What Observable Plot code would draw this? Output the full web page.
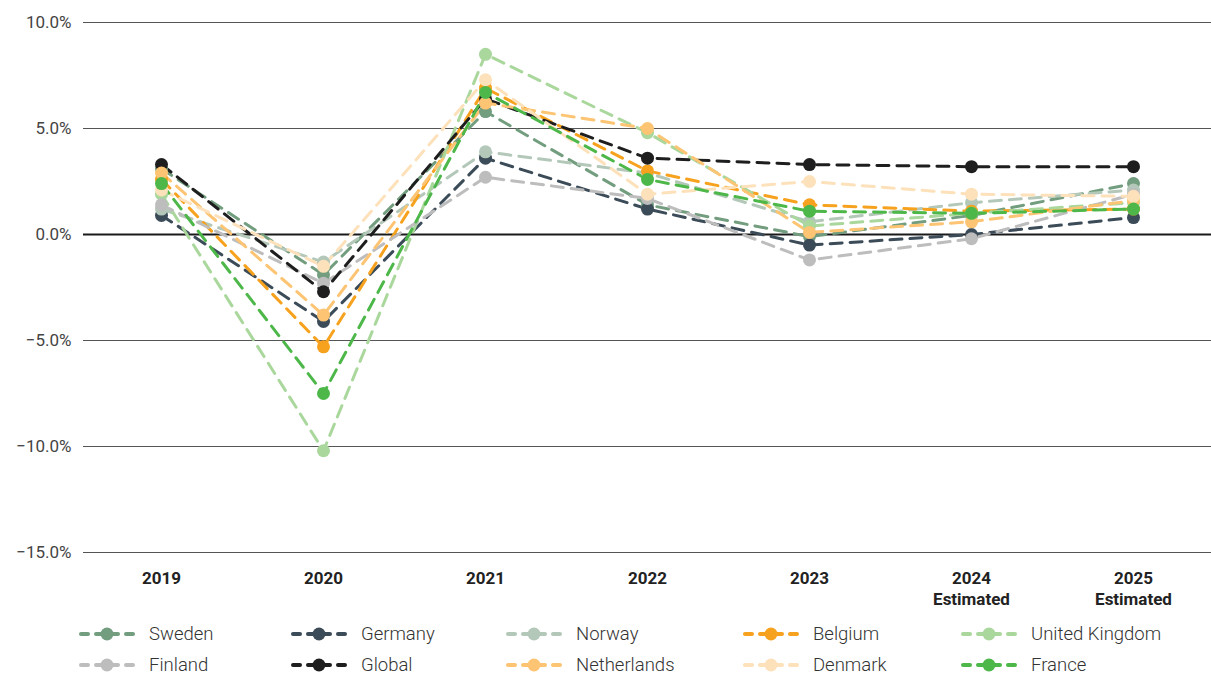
<!DOCTYPE html>
<html>
<head>
<meta charset="utf-8">
<script src="https://cdn.jsdelivr.net/npm/d3@7"></script>
<script src="https://cdn.jsdelivr.net/npm/@observablehq/plot@0.6"></script>
<style>
  html, body { margin: 0; padding: 0; background: #fff; }
  body { width: 1211px; height: 677px; overflow: hidden; position: relative; font-family: Roboto, "Noto Sans", sans-serif; }
  #chart { position: absolute; left: 0; top: 0; }
  .leg { position: absolute; display: flex; align-items: center; font-size: 18.5px; line-height: 20px; color: #333; font-weight: 300; white-space: nowrap; }
  .leg svg { margin-right: 13px; }
</style>
</head>
<body>
<div id="chart"></div>
<div id="legend"></div>
<script>
const years = ["2019", "2020", "2021", "2022", "2023", "2024", "2025"];
const yearLabels = ["2019", "2020", "2021", "2022", "2023", "2024\nEstimated", "2025\nEstimated"];
const yTicks = [10, 5, 0, -5, -10, -15];

const seriesNames = ["Sweden", "Germany", "Norway", "Belgium", "United Kingdom", "Finland", "Global", "Netherlands", "Denmark", "France"];
const seriesColors = ["#729d7e", "#3b4b58", "#b4c8b9", "#f7a21e", "#a9d79c", "#bdbdbd", "#1e1e1e", "#fcc473", "#fde1ba", "#4db849"];

const sweden      = [3.1, -1.9, 5.8, 1.4, -0.1, 0.9, 2.4];
const germany     = [0.9, -4.1, 3.6, 1.2, -0.5, 0.0, 0.8];
const norway      = [1.2, -1.3, 3.9, 2.9, 0.6, 1.5, 2.1];
const belgium     = [2.6, -5.3, 6.9, 3.0, 1.4, 1.1, 1.2];
const unitedKingdom = [1.9, -10.2, 8.5, 4.8, 0.4, 1.0, 1.5];
const finland     = [1.4, -2.3, 2.7, 1.7, -1.2, -0.2, 1.9];
const global      = [3.3, -2.7, 6.4, 3.6, 3.3, 3.2, 3.2];
const netherlands = [2.9, -3.8, 6.2, 5.0, 0.1, 0.6, 1.6];
const denmark     = [2.1, -1.5, 7.3, 1.9, 2.5, 1.9, 1.8];
const france      = [2.4, -7.5, 6.7, 2.6, 1.1, 1.0, 1.2];

const seriesValues = [sweden, germany, norway, belgium, unitedKingdom, finland, global, netherlands, denmark, france];

const data = [];
seriesNames.forEach((name, i) => {
  seriesValues[i].forEach((v, j) => data.push({series: name, year: years[j], value: v}));
});

const labelMap = Object.fromEntries(years.map((y, i) => [y, yearLabels[i]]));
const fmt = v => (v < 0 ? "\u2212" : "") + Math.abs(v).toFixed(1) + "%";

const plot = Plot.plot({
  width: 1211,
  height: 612,
  marginLeft: 83,
  marginRight: 0,
  marginTop: 22,
  marginBottom: 60,
  style: {fontFamily: "Roboto, sans-serif", background: "#fff"},
  x: {type: "point", domain: years, padding: 0.48},
  y: {domain: [-15, 10]},
  color: {domain: seriesNames, range: seriesColors},
  marks: [
    Plot.ruleY(yTicks.filter(d => d !== 0), {stroke: "#555", strokeWidth: 1}),
    Plot.ruleY([0], {stroke: "#1a1a1a", strokeWidth: 2}),
    Plot.axisY({ticks: yTicks, tickSize: 0, tickPadding: 12, tickFormat: fmt, fontSize: 17, color: "#444", label: null}),
    Plot.axisX({tickSize: 0, tickPadding: 16, tickFormat: d => labelMap[d], fontSize: 17, fontWeight: "bold", color: "#222", label: null, lineHeight: 1.25}),
    Plot.line(data, {x: "year", y: "value", z: "series", stroke: "series", strokeWidth: 3, strokeDasharray: "12,8", strokeLinecap: "round"}),
    Plot.dot(data, {x: "year", y: "value", fill: "series", r: 6.5})
  ]
});
document.getElementById("chart").appendChild(plot);

const legendX = [78, 290, 505, 742, 960];
const legendY = [634, 665];
const legend = document.getElementById("legend");
seriesNames.forEach((name, i) => {
  const col = i % 5, row = Math.floor(i / 5);
  const div = document.createElement("div");
  div.className = "leg";
  div.style.left = legendX[col] + "px";
  div.style.top = (legendY[row] - 11) + "px";
  div.style.height = "22px";
  const c = seriesColors[i];
  div.innerHTML = `<svg width="58" height="22"><line x1="3" y1="11" x2="10" y2="11" stroke="${c}" stroke-width="4" stroke-linecap="round"/><line x1="48" y1="11" x2="55" y2="11" stroke="${c}" stroke-width="4" stroke-linecap="round"/><line x1="18" y1="11" x2="40" y2="11" stroke="${c}" stroke-width="4" stroke-linecap="round"/><circle cx="29" cy="11" r="6.5" fill="${c}"/></svg><span>${name}</span>`;
  legend.appendChild(div);
});
</script>
</body>
</html>
